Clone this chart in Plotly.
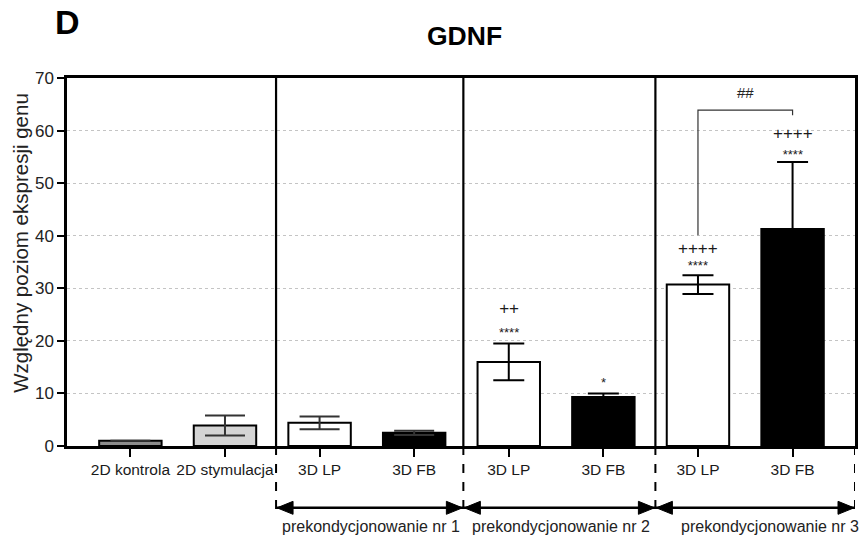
import plotly.graph_objects as go

# ---------------- data ----------------
categories = ["2D kontrola", "2D stymulacja", "3D LP", "3D FB", "3D LP", "3D FB", "3D LP", "3D FB"]
positions = [0, 1, 2, 3, 4, 5, 6, 7]
values = [1.0, 3.9, 4.4, 2.5, 16.0, 9.3, 30.7, 41.3]
errors = [0.0, 1.9, 1.2, 0.4, 3.5, 0.7, 1.8, 12.7]
bar_colors = ["#8c8c8c", "#d4d4d4", "#ffffff", "#000000", "#ffffff", "#000000", "#ffffff", "#000000"]

# significance marks: position, "+" text, "*" text, y of the "*" row, gap to "+" row (in px)
mark_pos = [4, 6, 7]
mark_plus = ["++", "++++", "++++"]
mark_star = ["****", "****", "****"]
mark_star_y = [21.9, 34.8, 55.8]
mark_gap_px = [21, 14, 18]
single_marks = [(5, 12.0, "*")]
bracket = {"x0": 6, "x1": 7, "y_left": 40.1, "y_top": 63.9, "y_right": 62.9, "label": "##", "label_y": 67.2}

group_dividers = [1.54, 3.52, 5.55]
group_labels = ["prekondycjonowanie nr 1", "prekondycjonowanie nr 2", "prekondycjonowanie nr 3"]
group_label_x = [2.54, 4.55, 6.76]
x_range = [-0.67, 7.66]
y_ticks = [0, 10, 20, 30, 40, 50, 60, 70]

FONT = "Liberation Sans, Arial, sans-serif"
PX_PER_UNIT = 368 / 70.0

fig = go.Figure()

# two bar traces (different error-cap widths / colours per section)
for idx, capw, ecol in [(range(0, 4), 20, "#333333"), (range(4, 8), 15.5, "#000000")]:
    idx = list(idx)
    fig.add_trace(go.Bar(
        x=[positions[i] for i in idx],
        y=[values[i] for i in idx],
        width=0.66,
        marker=dict(color=[bar_colors[i] for i in idx], line=dict(color="black", width=2)),
        error_y=dict(type="data", array=[errors[i] for i in idx], symmetric=True,
                     color=ecol, thickness=2, width=capw, visible=True),
        showlegend=False,
        hoverinfo="skip",
    ))

annotations = []
PLUS_FS, STAR_FS = 17, 13
for x, p, s, sy, gap in zip(mark_pos, mark_plus, mark_star, mark_star_y, mark_gap_px):
    baseline_gap = gap + (0.58 * STAR_FS - 0.33 * PLUS_FS)
    base = baseline_gap / 1.3
    annotations.append(dict(
        x=x, y=sy - 10.5 / PX_PER_UNIT, xref="x", yref="y",
        text=f"<span style='font-size:{PLUS_FS}px'>{p}</span><br><span style='font-size:{STAR_FS}px'>{s}</span>",
        showarrow=False, font=dict(size=base, color="#1a1a1a", family=FONT),
        xanchor="center", yanchor="bottom", borderpad=0))
for x, y, t in single_marks:
    annotations.append(dict(x=x, y=y, xref="x", yref="y", text=t, showarrow=False,
                            font=dict(size=STAR_FS, color="#222", family=FONT), yanchor="middle"))
annotations.append(dict(x=(bracket["x0"] + bracket["x1"]) / 2, y=bracket["label_y"], xref="x", yref="y",
                        text=bracket["label"], showarrow=False,
                        font=dict(size=15, color="#222", family=FONT), yanchor="middle"))

# titles
annotations.append(dict(x=0.504, y=1.114, xref="paper", yref="paper", text="<b>GDNF</b>", showarrow=False,
                        font=dict(size=26.5, color="black", family=FONT), xanchor="center", yanchor="middle"))
annotations.append(dict(x=0, y=1.151, xref="paper", yref="paper", text="<b>D</b>", showarrow=False,
                        font=dict(size=34, color="black", family=FONT), xanchor="center", yanchor="middle"))
annotations.append(dict(x=0, y=0.552, xref="paper", yref="paper", xshift=-46, text="Względny poziom ekspresji genu",
                        showarrow=False, textangle=-90,
                        font=dict(size=20.5, color="#222", family=FONT), xanchor="center", yanchor="middle"))

# group labels below
for gx, gl in zip(group_label_x, group_labels):
    annotations.append(dict(x=gx, y=-0.22, xref="x", yref="paper", text=gl, showarrow=False,
                            font=dict(size=16, color="#222", family=FONT), xanchor="center", yanchor="middle"))

shapes = []
# solid dividers inside the plot
for d in group_dividers:
    shapes.append(dict(type="line", xref="x", yref="y", x0=d, x1=d, y0=0, y1=70,
                       line=dict(color="black", width=2.2)))
# dashed dividers below the axis
arrow_y = -0.168
dash_edges = group_dividers + [x_range[1]]
for d in dash_edges:
    shapes.append(dict(type="line", xref="x", yref="paper", x0=d, x1=d, y0=0, y1=-0.18,
                       line=dict(color="black", width=2, dash="dash")))
# double-headed arrows
bounds = [(group_dividers[0], group_dividers[1]), (group_dividers[1], group_dividers[2]),
          (group_dividers[2], x_range[1])]
for a, b in bounds:
    shapes.append(dict(type="line", xref="x", yref="paper", x0=a, x1=b, y0=arrow_y, y1=arrow_y,
                       line=dict(color="black", width=2.5)))
    shapes.append(dict(type="path", xref="x", yref="paper", xsizemode="pixel", ysizemode="pixel",
                       xanchor=b, yanchor=arrow_y, path="M -1 0 L -17 6.5 L -17 -6.5 Z",
                       fillcolor="black", line=dict(color="black", width=1)))
    shapes.append(dict(type="path", xref="x", yref="paper", xsizemode="pixel", ysizemode="pixel",
                       xanchor=a, yanchor=arrow_y, path="M 1 0 L 17 6.5 L 17 -6.5 Z",
                       fillcolor="black", line=dict(color="black", width=1)))
# bracket
shapes.append(dict(type="path", xref="x", yref="y",
                   path=f"M {bracket['x0']} {bracket['y_left']} L {bracket['x0']} {bracket['y_top']} "
                        f"L {bracket['x1']} {bracket['y_top']} L {bracket['x1']} {bracket['y_right']}",
                   line=dict(color="#333", width=1.2)))

fig.update_layout(
    width=865, height=539,
    margin=dict(l=67, r=7, t=78, b=93),
    paper_bgcolor="white", plot_bgcolor="white",
    barmode="overlay",
    font=dict(family=FONT, color="#222"),
    annotations=annotations,
    shapes=shapes,
    xaxis=dict(range=x_range, tickmode="array", tickvals=positions, ticktext=categories,
               showgrid=False, zeroline=False, showline=True, linecolor="black", linewidth=2.5,
               mirror=True, ticks="outside", ticklen=8, tickwidth=2, tickcolor="black",
               tickfont=dict(size=15.5, color="#1a1a1a", family=FONT)),
    yaxis=dict(range=[0, 70], tickmode="array", tickvals=y_ticks, showgrid=True,
               gridcolor="#c4c4c4", griddash="dot", gridwidth=1, zeroline=False,
               showline=True, linecolor="black", linewidth=2.5, mirror=True,
               ticks="outside", ticklen=7, tickwidth=2, tickcolor="black",
               tickfont=dict(size=17, color="#222", family=FONT)),
)

fig.write_html("out.html")
